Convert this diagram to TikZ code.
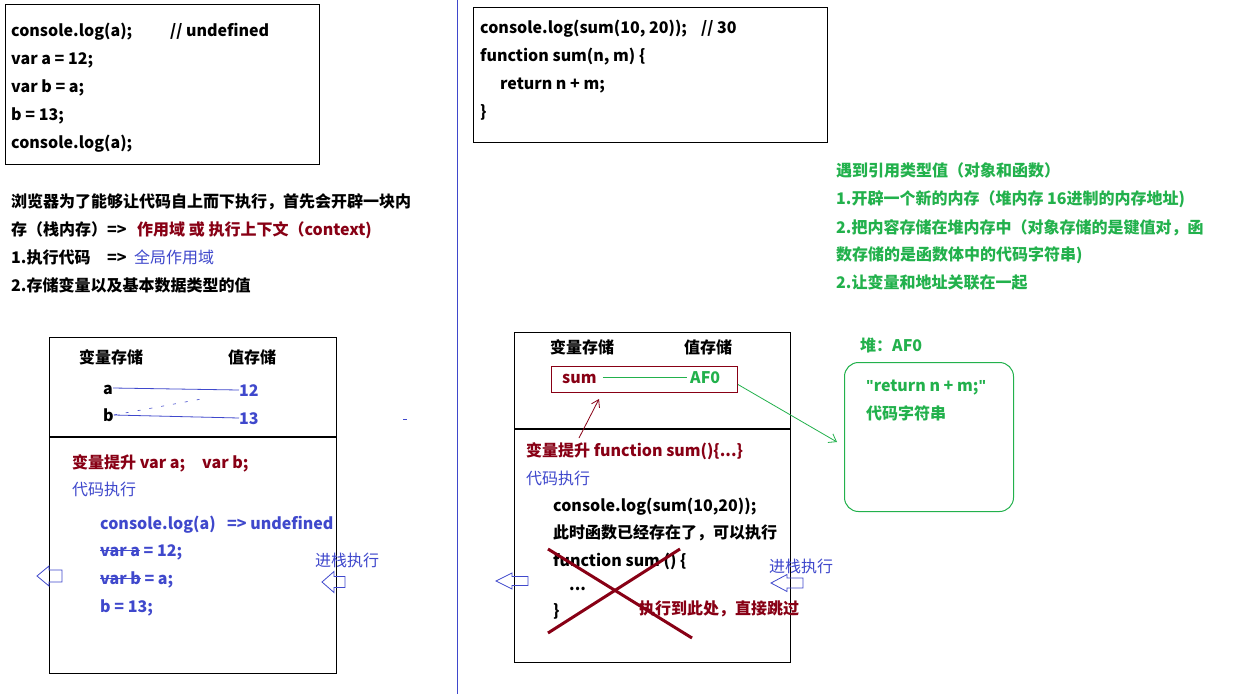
\documentclass[tikz,border=0pt]{standalone}
\usepackage{fontspec}
\setmainfont{Noto Sans CJK SC}
\newfontfamily\qfont{Liberation Sans}
\usetikzlibrary{arrows.meta}
\definecolor{dred}{RGB}{136,0,21}
\definecolor{pgreen}{RGB}{34,177,76}
\definecolor{indig}{RGB}{63,72,204}
\newcommand\fs{\fontsize{16pt}{20pt}\selectfont}
\newcommand\dq{{\qfont\bfseries\char34}}
\newlength\strklen
\newcommand\strk[1]{\settowidth\strklen{#1}\makebox[0pt][l]{\rule[0.3em]{\strklen}{1.2pt}}#1}
\tikzset{
  txt/.style={anchor=west, inner sep=0pt, text height=14pt, text depth=2pt, font=\fs\bfseries},
  reg/.style={anchor=west, inner sep=0pt, text height=14pt, text depth=2pt, font=\fs},
  box/.style={draw=black, line width=1.2pt, anchor=north west, inner sep=0pt},
  thinln/.style={line width=0.8pt},
  pics/harrow/.style n args={4}{code={
    \draw[indig, line width=0.8pt] (0,0) -- (#1,-#2) -- (#1,-#4) -- (#3,-#4) -- (#3,#4) -- (#1,#4) -- (#1,#2) -- cycle;}}
}
\begin{document}
\begin{tikzpicture}[x=1pt, y=-1pt]
\useasboundingbox[fill=white] (0,0) rectangle (1248,694);

% divider
\draw[indig, line width=1pt] (457,0) -- (457,694);

% top-left code box
\node[box, minimum width=314pt, minimum height=160pt] (bx1) at (5,4) {};
\node[txt] (t1) at (11,30) {console.log(a);};
\node[txt] (t1c) at (170,30) {// undefined};
\node[txt] (t2) at (11,58) {var a = 12;};
\node[txt] (t3) at (11,86) {var b = a;};
\node[txt] (t4) at (11,114) {b = 13;};
\node[txt] (t5) at (11,142) {console.log(a);};

% paragraph
\node[txt] (p1) at (11,201) {浏览器为了能够让代码自上而下执行，首先会开辟一块内};
\node[txt] (p2) at (11,229) {存（栈内存）=>};
\node[txt, text=dred] (p2r) at (137,229) {作用域 或 执行上下文（context)};
\node[txt] (p3) at (11,257) {1.执行代码};
\node[txt] (p3a) at (107,257) {=>};
\node[reg, text=indig] (p3b) at (134,257) {全局作用域};
\node[txt] (p4) at (11,285) {2.存储变量以及基本数据类型的值};

% top-right code box
\node[box, minimum width=354pt, minimum height=135pt] (bx2) at (473,7) {};
\node[txt] (r1) at (480,27) {console.log(sum(10, 20));};
\node[txt] (r1c) at (701,27) {// 30};
\node[txt] (r2) at (480,55) {function sum(n, m) \{};
\node[txt] (r3) at (500,83) {return n + m;};
\node[txt] (r4) at (480,111) {\}};

% green notes
\node[txt, text=pgreen] (g1) at (836,170) {遇到引用类型值（对象和函数）};
\node[txt, text=pgreen] (g2) at (836,198) {1.开辟一个新的内存（堆内存 16进制的内存地址)};
\node[txt, text=pgreen] (g3) at (836,227) {2.把内容存储在堆内存中（对象存储的是键值对，函};
\node[txt, text=pgreen] (g4) at (836,254) {数存储的是函数体中的代码字符串)};
\node[txt, text=pgreen] (g5) at (836,282) {2.让变量和地址关联在一起};

% heap
\node[txt, text=pgreen] (hl) at (860,345) {堆：AF0};
\node[draw=pgreen, line width=1pt, rounded corners=14pt, anchor=north west, minimum width=169pt, minimum height=149pt, inner sep=0pt] (heap) at (844,362) {};
\node[txt, text=pgreen] (h1) at (866,385) {\dq return n + m;\dq};
\node[txt, text=pgreen] (h2) at (866,413) {代码字符串};

% left stack box
\node[box, minimum width=287pt, minimum height=336pt] (bx3) at (49,337) {};
\draw[line width=1.2pt] (49,437) -- (336,437);
\node[txt] (lh1) at (79,357) {变量存储};
\node[txt] (lh2) at (228,357) {值存储};
\node[txt] (la) at (103,388) {a};
\node[txt, text=indig] (l12) at (239,390) {12};
\node[txt] (lb) at (103,415) {b};
\node[txt, text=indig] (l13) at (239,418) {13};
\draw[indig, thinln] (la.east) -- (l12.west);
\draw[indig, thinln] (lb.east) -- (l13.west);
\coordinate (dend) at (207,398);
\draw[indig, line width=0.6pt, dash pattern=on 3pt off 9pt] (lb.east) -- (dend);
\draw[indig, thinln] (403,419) -- (407,419);
\node[txt, text=dred] (lhoist) at (72,462) {变量提升 var a;};
\node[txt, text=dred] (lhoist2) at (202,462) {var b;};
\node[reg, text=indig] (lexec) at (72,489) {代码执行};
\node[txt, text=indig] (lc1) at (100,523) {console.log(a)};
\node[txt, text=indig] (lc1b) at (227,523) {=> undefined};
\node[txt, text=indig] (lc2) at (100,550) {\strk{var a} = 12;};
\node[txt, text=indig] (lc3) at (100,578) {\strk{var b} = a;};
\node[txt, text=indig] (lc4) at (100,606) {b = 13;};
\node[reg, text=indig] (lpush) at (315,560) {进栈执行};
\pic (ar1) at (37,576) {harrow={12}{10}{25}{6}};
\pic (ar2) at (322,582) {harrow={12}{10.5}{23}{5.5}};

% right stack box
\node[box, minimum width=276pt, minimum height=330pt] (bx4) at (514,332) {};
\draw[line width=1.2pt] (514,429) -- (790,429);
\node[txt] (rh1) at (550,347) {变量存储};
\node[txt] (rh2) at (684,347) {值存储};
\node[draw=dred, line width=1pt, anchor=north west, minimum width=186pt, minimum height=26pt, inner sep=0pt] (srect) at (551,366) {};
\node[txt, text=dred] (rsum) at (562,377) {sum};
\node[txt, text=pgreen] (raf) at (690,377) {AF0};
\draw[pgreen, thinln, shorten <=6pt, shorten >=3pt] (rsum.east) -- (raf.west);
\coordinate (hin) at (837,442);
\draw[pgreen, thinln, -{Straight Barb[length=7pt,width=10pt]}] ([yshift=-5pt]srect.east) -- (hin);
\coordinate (rs) at (579,438);
\coordinate (re) at (599,399);
\draw[dred, thinln, -{Straight Barb[length=7pt,width=9pt]}] (rs) -- (re);
\node[txt, text=dred] (rhoist) at (526,450) {变量提升 function sum()\{...\}};
\node[reg, text=indig] (rexec) at (526,478) {代码执行};
\node[txt] (rc1) at (553,505) {console.log(sum(10,20));};
\node[txt] (rc2) at (553,532) {此时函数已经存在了，可以执行};
\node[txt] (rc3) at (553,560) {function sum () \{};
\node[txt] (rc4) at (569,584) {...};
\node[txt] (rc5) at (553,610) {\}};
\node[txt, text=dred] (rskip) at (639,608) {执行到此处，直接跳过};
\draw[dred, line width=3pt] (548,549) -- (692,638);
\draw[dred, line width=3pt] (680,549) -- (548,633);
\node[reg, text=indig] (rpush) at (769,566) {进栈执行};
\pic (ar3) at (496,581) {harrow={16}{8}{32}{4.5}};
\pic (ar4) at (771,583) {harrow={16}{8.5}{32}{5}};
\end{tikzpicture}
\end{document}
